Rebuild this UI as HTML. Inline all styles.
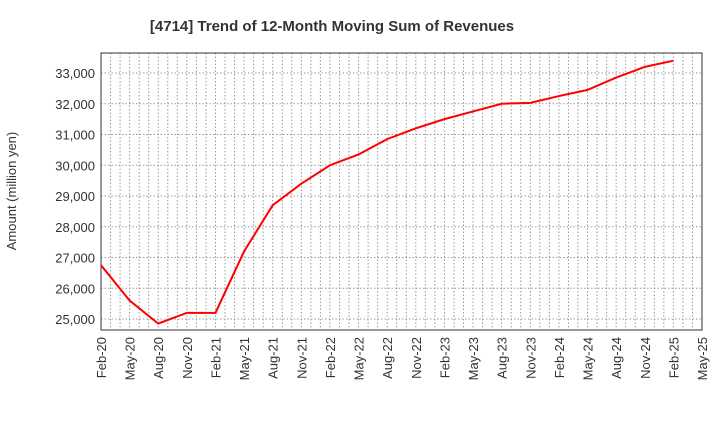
<!DOCTYPE html>
<html><head><meta charset="utf-8"><style>
body{margin:0;background:#fff;font-family:"Liberation Sans",sans-serif}
</style></head><body>
<svg id="c" width="720" height="440" xmlns="http://www.w3.org/2000/svg">
<text x="332" y="31" text-anchor="middle" font-size="15" font-weight="bold" fill="#333">[4714]  Trend of 12-Month Moving Sum of Revenues</text>
<text transform="translate(16,191) rotate(-90)" text-anchor="middle" font-size="13" fill="#333">Amount (million yen)</text>
<g id="grid"></g><g id="axes"></g><g id="series"></g>
</svg>
<script>
const xLabels=["Feb-20","May-20","Aug-20","Nov-20","Feb-21","May-21","Aug-21","Nov-21","Feb-22","May-22","Aug-22","Nov-22","Feb-23","May-23","Aug-23","Nov-23","Feb-24","May-24","Aug-24","Nov-24","Feb-25","May-25"];
const yTicks=[25000,26000,27000,28000,29000,30000,31000,32000,33000];
const revenues=[26750,25600,24850,25200,25200,27200,28700,29400,30000,30350,30850,31200,31500,31750,32000,32030,32250,32450,32850,33200,33400];
const L=101,R=702,T=53,B=330;
const NS="http://www.w3.org/2000/svg";
const xs=i=>L+(R-L)*i/(xLabels.length-1);
const ys=v=>319-(v-25000)*30.75/1000;
function mk(tag,at,parent){const e=document.createElementNS(NS,tag);for(const k in at)e.setAttribute(k,at[k]);document.getElementById(parent).appendChild(e);return e;}
const months=(xLabels.length-1)*3;
for(let m=1;m<months;m++){const x=L+(R-L)*m/months;
const g=mk('line',{x1:x,x2:x,y1:T,y2:B,stroke:'#999','stroke-dasharray':'1.5,2','stroke-width':1},'grid');

}
yTicks.forEach(v=>{const y=ys(v);
const g=mk('line',{x1:L,x2:R,y1:y,y2:y,stroke:'#999','stroke-dasharray':'1.5,2','stroke-width':1},'grid');


const t=mk('text',{x:L-6,y:y+5,'text-anchor':'end','font-size':13,fill:'#333'},'axes');t.textContent=v.toLocaleString('en-US');

});
xLabels.forEach((s,i)=>{const x=xs(i);
const t=mk('text',{transform:`translate(${x+5},337) rotate(-90)`,'text-anchor':'end','font-size':13,fill:'#333'},'axes');t.textContent=s;

});
const fr=mk('rect',{x:L,y:T,width:R-L,height:B-T,fill:'none',stroke:'#333','stroke-width':1},'axes');


const p=mk('polyline',{points:revenues.map((v,i)=>xs(i)+','+ys(v)).join(' '),fill:'none',stroke:'#f00','stroke-width':2},'series');


</script>
</body></html>
